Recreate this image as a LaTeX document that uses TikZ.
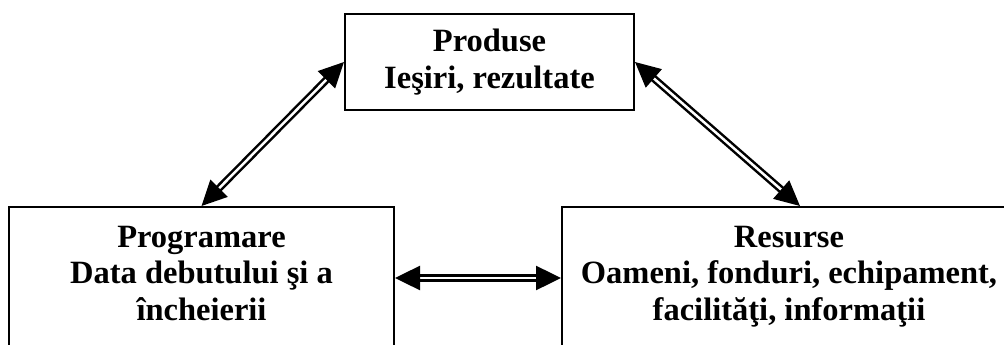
\documentclass[tikz,border=0pt]{standalone}
\usepackage{fontspec}
\setmainfont{Liberation Serif}
\usetikzlibrary{arrows.meta,calc}
\begin{document}
\begin{tikzpicture}[x=1pt,y=-1pt,
  box/.style={draw, line width=2pt, inner sep=0pt},
  lbl/.style={font=\fontsize{32.5}{36.5}\selectfont\bfseries, align=center, inner sep=0pt},
  dbl/.style={double, double distance=2.5pt, line width=2.5pt,
    {Triangle[length=25pt,width=24pt]}-{Triangle[length=25pt,width=24pt]}}]
\useasboundingbox (0,0) rectangle (1004,345);
\clip (0,0) rectangle (1004,345);
\node[box, lbl, minimum width=289pt, minimum height=96pt] (top) at (489.5,62) {Produse\\Ieşiri, rezultate};
\node[box, minimum width=385pt, minimum height=142pt] (left) at (201.5,278) {};
\node[box, minimum width=454pt, minimum height=142pt] (right) at (789,278) {};
\node[lbl, anchor=base] (lt) at (201.5,320) {Programare\\Data debutului şi a\\încheierii};
\node[lbl, anchor=base] (rt) at (789,320) {Resurse\\Oameni, fonduri, echipament,\\facilităţi, informaţii};
\coordinate (rin) at ($(right.north)+(11,0)$);
\draw[dbl] (top.west) -- (left.north);
\draw[dbl] (top.east) -- (rin);
\draw[dbl] (left.east) -- (right.west);
\end{tikzpicture}
\end{document}
